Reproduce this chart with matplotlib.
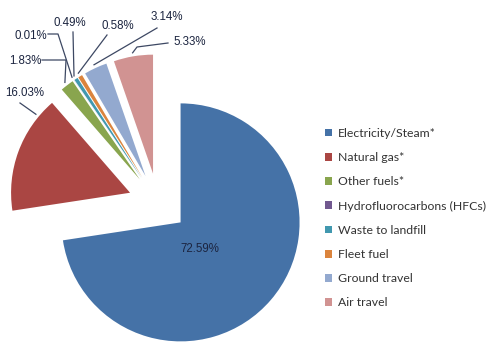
import numpy as np
import matplotlib
matplotlib.use("Agg")
import matplotlib.pyplot as plt
from matplotlib.patches import Patch

categories = ["Electricity/Steam*", "Natural gas*", "Other fuels*",
              "Hydrofluorocarbons (HFCs)", "Waste to landfill", "Fleet fuel",
              "Ground travel", "Air travel"]
shares = [72.59, 16.03, 1.83, 0.01, 0.49, 0.58, 3.14, 5.33]
pct_labels = ["72.59%", "16.03%", "1.83%", "0.01%", "0.49%", "0.58%", "3.14%", "5.33%"]
colors = ["#4572A7", "#AA4643", "#89A54E", "#71588F", "#4198AF", "#DB843D",
          "#93A9CF", "#D19392"]

# layout (pixels of the 494x358 canvas)
W, H = 494, 358
cx, cy, R = 158, 203, 119
explode = 0.25

def px(x, y):
    return ((x - cx) / R, (cy - y) / R)

fig = plt.figure(figsize=(W / 100, H / 100), dpi=100)
ax = fig.add_axes([0, 0, 1, 1])

wedges, _ = ax.pie(shares, colors=colors, startangle=90, counterclock=False,
                   explode=[explode] * len(shares), radius=1,
                   wedgeprops=dict(linewidth=0))
ax.set_xlim(-cx / R, (W - cx) / R)
ax.set_ylim(-(H - cy) / R, cy / R)
ax.set_aspect("equal")
ax.axis("off")

txt_color = "#1c2540"
line_color = "#3d4863"
fs = 8.3

# label text centres and leader elbows (pixels)
label_pos = [(200, 249), (25, 93), (25, 61), (31, 36), (70, 23), (118, 26), (167, 17), (190, 42)]
leader_start = [None, (20, 103), (42, 60), (48, 34), (73, 32), (107, 35), (157, 28), (168, 43)]
leader_elbow = [None, None, (66, 60), (58, 34), None, None, None, (137, 47)]
# where along each wedge's arc the leader meets it (0 = theta1, 1 = theta2)
leader_frac = [0.5, 0.16, 0.5, 0.5, 0.5, 0.5, 0.5, 0.5]
leader_r = 1.03

for i, w in enumerate(wedges):
    x, y = px(*label_pos[i])
    ax.text(x, y, pct_labels[i], ha="center", va="center", fontsize=fs,
            color=txt_color, family="Liberation Sans")
    if leader_start[i] is None:
        continue
    ang = np.deg2rad(w.theta1 + leader_frac[i] * (w.theta2 - w.theta1))
    wx, wy = w.center
    end = (wx + leader_r * np.cos(ang), wy + leader_r * np.sin(ang))
    pts = [px(*leader_start[i])]
    if leader_elbow[i] is not None:
        pts.append(px(*leader_elbow[i]))
    pts.append(end)
    xs, ys = zip(*pts)
    ax.plot(xs, ys, color=line_color, lw=0.9)

handles = [Patch(facecolor=c, edgecolor="none") for c in colors]
fig.legend(handles, categories, loc="upper left", bbox_to_anchor=(320 / W, 1 - 123 / H),
           frameon=False, handlelength=0.6, handleheight=0.6,
           handletextpad=0.45, labelspacing=1.08, borderaxespad=0,
           prop={"family": "Lato", "size": 8.8}, labelcolor="#333333")

fig.savefig("out.png", dpi=100)
